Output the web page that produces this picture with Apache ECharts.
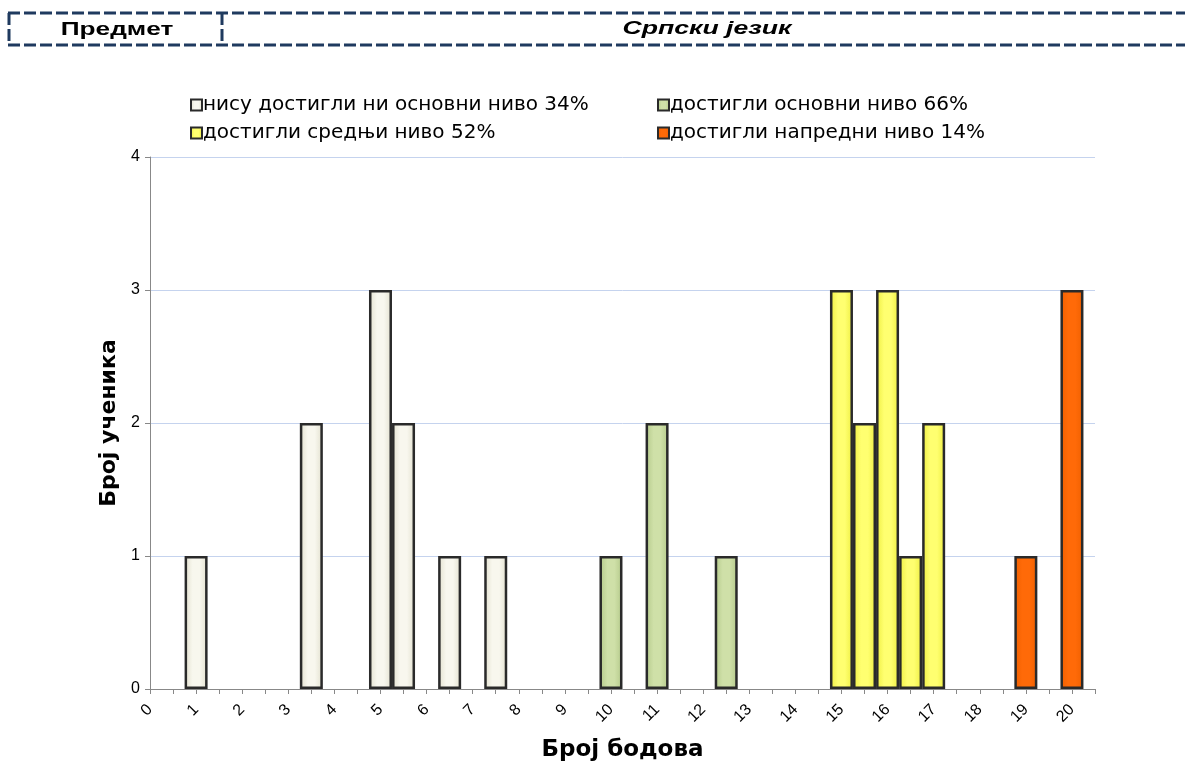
<!DOCTYPE html>
<html><head><meta charset="utf-8">
<script src="https://cdn.jsdelivr.net/npm/echarts@6/dist/echarts.min.js"></script>
<style>html,body{margin:0;padding:0;background:#fff}#c{width:1185px;height:767px}</style>
</head><body><div id="c"></div>
<script>
const seriesNames = ['нису достигли ни основни ниво 34%','достигли основни ниво 66%','достигли средњи ниво 52%','достигли напредни ниво 14%'];
const nisuPoints = [[1,1],[3.5,2],[5,3],[5.5,2],[6.5,1],[7.5,1]];
const osnovniPoints = [[10,1],[11,2],[12.5,1]];
const srednjiPoints = [[15,3],[15.5,2],[16,3],[16.5,1],[17,2]];
const napredniPoints = [[19,1],[20,3]];
const yTicks = [0,1,2,3,4];
const subjectLabel = 'Предмет';
const subjectName = 'Српски језик';
const xTitle = 'Број бодова';
const yTitle = 'Број ученика';

const FONT = '"Liberation Sans", Arial, sans-serif';
const WIDE = '"DejaVu Sans", "Liberation Sans", sans-serif';
function grad(edge, mid){
  return {type:'linear',x:0,y:0,x2:1,y2:0,colorStops:[
    {offset:0,color:edge},{offset:0.35,color:mid},{offset:0.65,color:mid},{offset:1,color:edge}]};
}
const fills = [grad('#E2E0CE','#F8F7EE'), grad('#B4C98A','#CFE0A8'), grad('#EEEE40','#FFFF70'), grad('#F06000','#FF6A08')];
const dataSets = [nisuPoints, osnovniPoints, srednjiPoints, napredniPoints];

const series = seriesNames.map((n,i)=>({
  name:n, type:'bar', data:dataSets[i], barWidth:23, barGap:'-100%',
  itemStyle:{color:fills[i], borderColor:'#2a2a2a', borderWidth:2.5},
  emphasis:{disabled:true}
}));

const dash = {stroke:'#1F3A5F', lineWidth:3, lineDash:[12,4]};
const chart = echarts.init(document.getElementById('c'));
chart.setOption({
  animation:false,
  textStyle:{fontFamily:FONT},
  graphic:[
    {type:'line', shape:{x1:8,y1:13,x2:1185,y2:13}, style:dash},
    {type:'line', shape:{x1:8,y1:45,x2:1185,y2:45}, style:dash},
    {type:'line', shape:{x1:9,y1:13,x2:9,y2:45}, style:dash},
    {type:'line', shape:{x1:222,y1:13,x2:222,y2:45}, style:dash},
    {type:'text', x:117, y:30, scaleX:1.38, style:{text:subjectLabel, font:'bold 19px '+FONT, fill:'#000', textAlign:'center', textVerticalAlign:'middle'}},
    {type:'text', x:707, y:29, scaleX:1.4, style:{text:subjectName, font:'italic bold 19px '+FONT, fill:'#000', textAlign:'center', textVerticalAlign:'middle'}}
  ],
  legend:[
    {data:[seriesNames[0],seriesNames[2]], orient:'vertical', left:185, top:90, itemWidth:11, itemHeight:11, itemGap:8, icon:'rect',
     textStyle:{fontSize:20, color:'#000', padding:[0,0,0,-4], fontFamily:WIDE}},
    {data:[seriesNames[1],seriesNames[3]], orient:'vertical', left:652, top:90, itemWidth:11, itemHeight:11, itemGap:8, icon:'rect',
     textStyle:{fontSize:20, color:'#000', padding:[0,0,0,-4], fontFamily:WIDE}}
  ],
  grid:{left:150, right:90, top:157, bottom:67, containLabel:false},
  xAxis:{type:'value', min:0, max:20.5, interval:1,
    name:xTitle, nameLocation:'middle', nameGap:50,
    nameTextStyle:{fontSize:23, fontWeight:'bold', color:'#000', fontFamily:WIDE},
    axisLine:{show:true, lineStyle:{color:'#888', width:1}},
    axisTick:{show:true, length:5, lineStyle:{color:'#888'}},
    minorTick:{show:true, splitNumber:2, length:5, lineStyle:{color:'#888'}},
    splitLine:{show:false},
    axisLabel:{rotate:45, fontSize:16, color:'#000', margin:18,
      formatter:v=> Number.isInteger(v) ? String(v) : ''}
  },
  yAxis:{type:'value', min:yTicks[0], max:yTicks[yTicks.length-1], interval:1,
    name:yTitle, nameLocation:'middle', nameGap:30, nameRotate:90,
    nameTextStyle:{fontSize:22, fontWeight:'bold', color:'#000', fontFamily:WIDE},
    axisLine:{show:true, lineStyle:{color:'#888', width:1}},
    axisTick:{show:true, length:5, lineStyle:{color:'#888'}},
    splitLine:{show:true, lineStyle:{color:'#C5D3EE', width:1}},
    axisLabel:{fontSize:16, color:'#000', margin:10}
  },
  series:series
});
</script></body></html>
